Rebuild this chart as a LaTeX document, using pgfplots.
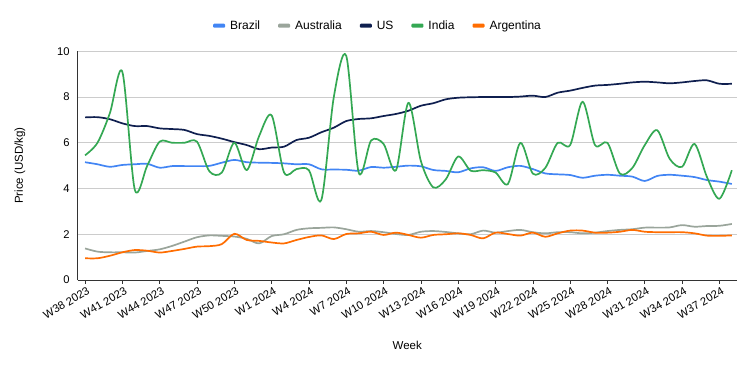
\documentclass[border=0pt]{standalone}
\usepackage{fontspec}
\setmainfont{Liberation Sans}
\usepackage{pgfplots}
\pgfplotsset{compat=1.18}
\definecolor{cBrazil}{HTML}{4285F4}
\definecolor{cAus}{HTML}{9AA59B}
\definecolor{cUS}{HTML}{0F1F4F}
\definecolor{cIndia}{HTML}{34A853}
\definecolor{cArg}{HTML}{FF6D01}
\definecolor{cGrid}{HTML}{CCCCCC}
\definecolor{cAxis}{HTML}{333333}
\begin{document}
\begin{tikzpicture}[x=1pt,y=1pt]
\path[use as bounding box] (-77.7,-91) rectangle (677.3,280);
\begin{axis}[
  at={(0,0)}, anchor=south west,
  scale only axis, width=659pt, height=228.7pt,
  xmin=-0.59, xmax=52.39, ymin=0, ymax=10,
  axis x line*=bottom, axis y line*=left,
  axis line style={draw=cAxis, line width=0.9pt, -},
  ytick={0,2,4,6,8,10},
  ymajorgrids, grid style={draw=cGrid, line width=0.8pt},
  xtick={0,3,...,51},
  xticklabels={W38 2023,W41 2023,W44 2023,W47 2023,W50 2023,W1 2024,W4 2024,W7 2024,W10 2024,W13 2024,W16 2024,W19 2024,W22 2024,W25 2024,W28 2024,W31 2024,W34 2024,W37 2024},
  tick align=outside,
  x tick style={draw=cAxis, line width=0.6pt},
  y tick style={draw=none},
  major tick length=4pt,
  xticklabel style={rotate=30, anchor=north east, inner sep=1pt, yshift=-2pt, xshift=1pt},
  yticklabel style={inner sep=1pt, xshift=-3pt},
  tick label style={font=\fontsize{11.2}{13}\selectfont, text=black},
  /pgf/number format/assume math mode=true,
  xlabel={Week}, ylabel={Price (USD/kg)},
  every axis x label/.style={at={(axis description cs:0.5,0)}, yshift=-65pt, anchor=center, font=\fontsize{11.5}{13}\selectfont},
  every axis y label/.style={at={(axis description cs:-0.0876,0.5)}, rotate=90, anchor=center, font=\fontsize{11.5}{13}\selectfont},
  legend columns=-1,
  legend style={at={(0.4557,1)}, anchor=center, yshift=25.6pt, draw=none, fill=none,
    font=\fontsize{12}{14}\selectfont,
    /tikz/every odd column/.append style={column sep=3pt},
    /tikz/every even column/.append style={column sep=16pt}},
  legend image code/.code={\fill[#1,draw=none,rounded corners=1pt] (0pt,-2pt) rectangle (12pt,2pt);},
  every axis plot/.append style={line width=1.7pt, smooth, tension=0.5, line join=round},
]
\addplot[color=cBrazil] coordinates {
(0,5.15)(1,5.06)(2,4.95)(3,5.03)(4,5.06)(5,5.08)(6,4.91)(7,4.98)(8,4.98)(9,4.98)
(10,4.99)(11,5.13)(12,5.25)(13,5.15)(14,5.13)(15,5.12)(16,5.10)(17,5.06)(18,5.06)(19,4.84)
(20,4.83)(21,4.82)(22,4.78)(23,4.94)(24,4.91)(25,4.95)(26,5.00)(27,4.97)(28,4.81)(29,4.77)
(30,4.71)(31,4.88)(32,4.93)(33,4.77)(34,4.93)(35,4.99)(36,4.85)(37,4.66)(38,4.62)(39,4.59)
(40,4.47)(41,4.56)(42,4.60)(43,4.56)(44,4.52)(45,4.33)(46,4.55)(47,4.60)(48,4.56)(49,4.50)
(50,4.37)(51,4.30)(52,4.20)};
\addlegendentry{Brazil}
\addplot[color=cAus] coordinates {
(0,1.38)(1,1.24)(2,1.21)(3,1.21)(4,1.20)(5,1.27)(6,1.34)(7,1.49)(8,1.68)(9,1.87)
(10,1.95)(11,1.93)(12,1.90)(13,1.80)(14,1.60)(15,1.92)(16,2.00)(17,2.19)(18,2.26)(19,2.28)
(20,2.30)(21,2.22)(22,2.11)(23,2.14)(24,2.09)(25,2.01)(26,1.97)(27,2.11)(28,2.14)(29,2.10)
(30,2.04)(31,2.00)(32,2.16)(33,2.07)(34,2.14)(35,2.19)(36,2.09)(37,2.04)(38,2.09)(39,2.09)
(40,2.04)(41,2.07)(42,2.14)(43,2.19)(44,2.22)(45,2.29)(46,2.29)(47,2.30)(48,2.40)(49,2.33)
(50,2.36)(51,2.37)(52,2.45)};
\addlegendentry{Australia}
\addplot[color=cUS] coordinates {
(0,7.11)(1,7.12)(2,7.03)(3,6.85)(4,6.73)(5,6.73)(6,6.63)(7,6.60)(8,6.56)(9,6.38)
(10,6.30)(11,6.18)(12,6.03)(13,5.90)(14,5.72)(15,5.79)(16,5.83)(17,6.12)(18,6.22)(19,6.46)
(20,6.66)(21,6.95)(22,7.04)(23,7.07)(24,7.17)(25,7.26)(26,7.40)(27,7.62)(28,7.73)(29,7.90)
(30,7.97)(31,7.99)(32,8.00)(33,8.00)(34,8.00)(35,8.02)(36,8.06)(37,8.00)(38,8.19)(39,8.28)
(40,8.40)(41,8.50)(42,8.53)(43,8.58)(44,8.64)(45,8.67)(46,8.64)(47,8.60)(48,8.64)(49,8.70)
(50,8.73)(51,8.58)(52,8.58)};
\addlegendentry{US}
\addplot[color=cIndia] coordinates {
(0,5.45)(1,6.0)(2,7.3)(3,9.1)(4,3.95)(5,5.0)(6,6.05)(7,6.0)(8,6.0)(9,6.05)
(10,4.75)(11,4.7)(12,6.0)(13,4.8)(14,6.3)(15,7.2)(16,4.7)(17,4.85)(18,4.8)(19,3.5)
(20,8.0)(21,9.8)(22,4.7)(23,6.1)(24,5.95)(25,4.8)(26,7.75)(27,5.2)(28,4.05)(29,4.4)
(30,5.4)(31,4.78)(32,4.8)(33,4.7)(34,4.2)(35,6.0)(36,4.65)(37,4.9)(38,6.0)(39,5.9)
(40,7.8)(41,5.9)(42,6.0)(43,4.65)(44,4.9)(45,5.9)(46,6.55)(47,5.3)(48,4.95)(49,5.95)
(50,4.5)(51,3.55)(52,4.8)};
\addlegendentry{India}
\addplot[color=cArg] coordinates {
(0,0.95)(1,0.95)(2,1.06)(3,1.21)(4,1.31)(5,1.28)(6,1.20)(7,1.27)(8,1.36)(9,1.46)
(10,1.48)(11,1.57)(12,2.02)(13,1.75)(14,1.71)(15,1.64)(16,1.60)(17,1.75)(18,1.88)(19,1.95)
(20,1.79)(21,2.01)(22,2.04)(23,2.11)(24,1.97)(25,2.07)(26,1.97)(27,1.85)(28,1.97)(29,2.00)
(30,2.04)(31,1.97)(32,1.82)(33,2.07)(34,2.01)(35,1.94)(36,2.07)(37,1.89)(38,2.04)(39,2.16)
(40,2.16)(41,2.07)(42,2.07)(43,2.11)(44,2.19)(45,2.11)(46,2.09)(47,2.09)(48,2.09)(49,2.04)
(50,1.94)(51,1.93)(52,1.95)};
\addlegendentry{Argentina}
\end{axis}
\end{tikzpicture}
\end{document}
